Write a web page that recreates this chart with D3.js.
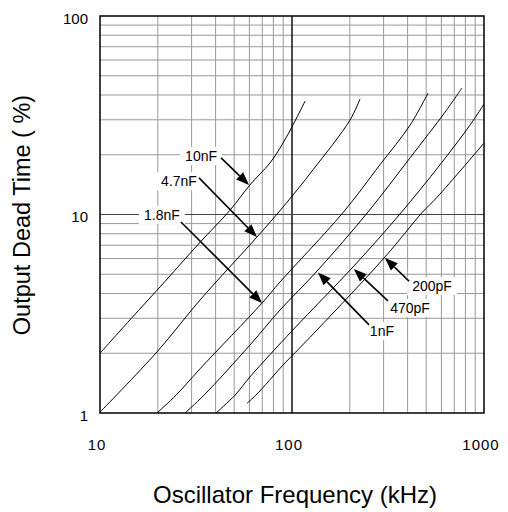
<!DOCTYPE html>
<html><head><meta charset="utf-8">
<script src="https://cdn.jsdelivr.net/npm/d3@7"></script>
<style>body{margin:0;background:#fff}svg{display:block}</style>
</head><body>
<svg id="c" width="508" height="512"></svg>
<script>
// ---- data ----
const xTicks = [10, 100, 1000];
const yTicks = [1, 10, 100];
const seriesNames = ["10nF", "4.7nF", "1.8nF", "1nF", "470pF", "200pF"];

const f10nF  = [10, 14.3, 21.8, 33, 47.5, 60.4, 76.8, 89.8, 102.4, 117];
const p10nF  = [2.0, 2.94, 4.6, 7.2, 10.5, 14.1, 18.2, 22.9, 28.9, 37.3];
const f4n7F  = [10, 19.8, 33.2, 65.7, 89.8, 128.7, 200.5, 226];
const p4n7F  = [1.01, 2.03, 3.71, 7.7, 10.9, 16.8, 29.9, 38.2];
const f1n8F  = [19.8, 24.9, 33.2, 69.8, 86.6, 184, 287, 412, 511];
const p1n8F  = [1.0, 1.23, 1.67, 3.58, 4.57, 10.2, 17.8, 28.2, 40.9];
const f1nF   = [27.7, 34.8, 60.4, 86.6, 136.6, 249, 412, 627, 768];
const p1nF   = [1.0, 1.23, 2.2, 3.3, 5.25, 10.3, 19.3, 32.8, 43.4];
const f470pF = [40.2, 50.5, 60.4, 101, 210, 365, 590, 845, 1000];
const p470pF = [1.0, 1.23, 1.52, 2.62, 5.5, 10.06, 17.8, 28.2, 36.0];
const f200pF = [58.3, 64.9, 89.8, 101, 135, 305, 475, 569, 1000];
const p200pF = [1.12, 1.23, 1.745, 1.96, 2.62, 6.11, 10.2, 12.2, 22.9];

// annotation: label centre, arrow start, arrow tip (data coordinates)
const labelF = [33.6, 25.8, 21.0, 294, 412, 536];
const labelP = [19.7, 14.7, 9.94, 2.59, 3.38, 4.36];
const arrowFromF = [42.7, 32.8, 26.4, 252, 316, 407];
const arrowFromP = [19.3, 15.3, 9.17, 2.78, 3.67, 4.62];
const arrowToF = [59.7, 65.7, 69.8, 136.6, 210, 305];
const arrowToP = [14.1, 7.7, 3.58, 5.1, 5.31, 6.04];

const xTitle = "Oscillator Frequency (kHz)";
const yTitle = "Output Dead Time ( %)";

// ---- drawing ----
const svg = d3.select("#c");
const L = 100, R = 484, T = 16, B = 413;
const x = d3.scaleLog().domain([10, 1000]).range([L, R]);
const y = d3.scaleLog().domain([1, 100]).range([B, T]);
const font = "'Liberation Sans', Arial, Helvetica, sans-serif";

svg.append("rect").attr("width", 508).attr("height", 512).attr("fill", "#fff");

const minorX = [], minorY = [];
[10, 100].forEach(d => { for (let k = 2; k <= 9; k++) minorX.push(d * k); });
[1, 10].forEach(d => { for (let k = 2; k <= 9; k++) minorY.push(d * k); });

const g = svg.append("g");
g.selectAll(".mx").data(minorX).join("line")
  .attr("x1", d => x(d)).attr("x2", d => x(d)).attr("y1", T).attr("y2", B)
  .attr("stroke", "#999").attr("stroke-width", 1);
g.selectAll(".my").data(minorY).join("line")
  .attr("y1", d => y(d)).attr("y2", d => y(d)).attr("x1", L).attr("x2", R)
  .attr("stroke", "#999").attr("stroke-width", 1);
// major decade lines
g.append("line").attr("x1", x(100)).attr("x2", x(100)).attr("y1", T).attr("y2", B)
  .attr("stroke", "#000").attr("stroke-width", 1.4);
g.append("line").attr("y1", y(10)).attr("y2", y(10)).attr("x1", L).attr("x2", R)
  .attr("stroke", "#444").attr("stroke-width", 1.2);

// curves
const series = [
  [f10nF, p10nF], [f4n7F, p4n7F], [f1n8F, p1n8F],
  [f1nF, p1nF], [f470pF, p470pF], [f200pF, p200pF]
];
svg.append("clipPath").attr("id", "clip").append("rect")
  .attr("x", L).attr("y", T).attr("width", R - L).attr("height", B - T);
const line = d3.line().x(d => x(d[0])).y(d => y(d[1])).curve(d3.curveCatmullRom.alpha(0.5));
svg.append("g").attr("clip-path", "url(#clip)")
  .selectAll("path").data(series).join("path")
  .attr("d", s => line(s[0].map((f, i) => [f, s[1][i]])))
  .attr("fill", "none").attr("stroke", "#000").attr("stroke-width", 1);

// labels with white boxes
const ann = svg.append("g");
seriesNames.forEach((name, i) => {
  const cx = x(labelF[i]), cy = y(labelP[i]);
  const t = ann.append("text").attr("x", cx).attr("y", cy)
    .attr("text-anchor", "middle").attr("dominant-baseline", "central")
    .attr("font-family", font).attr("font-size", 14).attr("fill", "#000").text(name);
  const bb = t.node().getBBox();
  ann.insert("rect", "text").attr("x", bb.x - 5).attr("y", bb.y - 1)
    .attr("width", bb.width + 10).attr("height", bb.height + 2).attr("fill", "#fff");
});
// arrows
seriesNames.forEach((name, i) => {
  const x0 = x(arrowFromF[i]), y0 = y(arrowFromP[i]);
  const x1 = x(arrowToF[i]), y1 = y(arrowToP[i]);
  const a = Math.atan2(y1 - y0, x1 - x0);
  const len = 13, hw = 5;
  const bx = x1 - len * Math.cos(a), by = y1 - len * Math.sin(a);
  ann.append("line").attr("x1", x0).attr("y1", y0).attr("x2", bx).attr("y2", by)
    .attr("stroke", "#000").attr("stroke-width", 1.6);
  const p = [[x1, y1],
    [bx + hw * Math.sin(a), by - hw * Math.cos(a)],
    [bx - hw * Math.sin(a), by + hw * Math.cos(a)]];
  ann.append("path").attr("d", "M" + p.map(q => q.join(",")).join("L") + "Z").attr("fill", "#000");
});

// frame
svg.append("rect").attr("x", L).attr("y", T).attr("width", R - L).attr("height", B - T)
  .attr("fill", "none").attr("stroke", "#000").attr("stroke-width", 1.5);

// tick labels
svg.append("g").selectAll("text").data(yTicks).join("text")
  .attr("x", 88).attr("y", d => y(d) + 2).attr("text-anchor", "end")
  .attr("dominant-baseline", "central")
  .attr("font-family", font).attr("font-size", 15).text(d => d);
svg.append("g").selectAll("text").data(xTicks).join("text")
  .attr("x", d => x(d) - 3).attr("y", 444).attr("text-anchor", "middle")
  .attr("dominant-baseline", "central").attr("letter-spacing", 1)
  .attr("font-family", font).attr("font-size", 15).text(d => d);

// axis titles
svg.append("text").attr("x", 295).attr("y", 494).attr("text-anchor", "middle")
  .attr("dominant-baseline", "central")
  .attr("font-family", font).attr("font-size", 24).text(xTitle);
svg.append("text").attr("transform", "translate(22,215) rotate(-90)")
  .attr("text-anchor", "middle").attr("dominant-baseline", "central")
  .attr("font-family", font).attr("font-size", 23.5).text(yTitle);
</script>
</body></html>
